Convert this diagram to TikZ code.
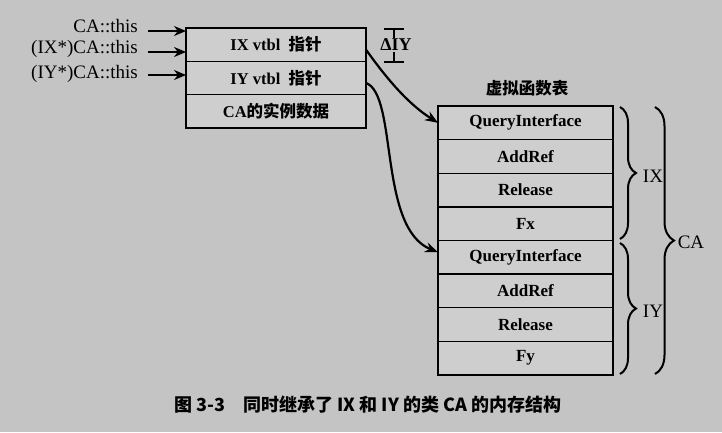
\documentclass[tikz,border=0pt]{standalone}
\usepackage{fontspec}
\setmainfont{Liberation Serif}
\newfontfamily\cjk{Noto Sans CJK SC}
\usetikzlibrary{arrows.meta,decorations.pathreplacing}
\definecolor{bg}{RGB}{196,196,196}
\definecolor{boxfill}{RGB}{206,206,206}
\begin{document}
\begin{tikzpicture}[x=1pt,y=-1pt,
  cell/.style={draw, line width=1.4pt, fill=boxfill, minimum width=180pt, minimum height=33.3pt,
    inner sep=0pt, outer sep=0pt, font=\fontsize{16.5}{16.5}\selectfont\bfseries},
  vcell/.style={draw, line width=1.4pt, fill=boxfill, minimum width=175pt, minimum height=33.6pt,
    inner sep=0pt, outer sep=0pt, font=\fontsize{17}{17}\selectfont\bfseries},
  lab/.style={anchor=east, inner sep=0pt, font=\fontsize{19}{19}\selectfont},
  ptr/.style={-{Stealth[length=12pt,width=10pt]}, line width=2.8pt},
  curvptr/.style={-{Stealth[length=13pt,width=10pt]}, line width=2.2pt},
  bracestyle/.style={decorate, decoration={brace,amplitude=16pt}, line width=2pt},
  blab/.style={inner sep=0pt, font=\fontsize{19}{19}\selectfont}
]
\fill[bg] (0,0) rectangle (722,432);
\useasboundingbox (0,0) rectangle (722,432);

% left object
\node[cell] (p1) at (276,44.65) {IX vtbl~~{\cjk 指针}};
\node[cell] (p2) at (276,77.95) {IY vtbl~~{\cjk 指针}};
\node[cell] (p3) at (276,111.25) {CA{\cjk 的实例数据}};
\draw[line width=2.4pt] (p1.north west) rectangle (p3.south east);

% this labels
\node[lab] (l1) at (138,26) {CA::this};
\node[lab] (l2) at (138,49) {(IX*)CA::this};
\node[lab] (l3) at (138,74) {(IY*)CA::this};
\coordinate (a1) at (148,31);
\coordinate (a2) at (148,52);
\coordinate (a3) at (148,75);
\draw[ptr] (a1) -- (a1 -| p1.west);
\draw[ptr] (a2) -- (a2 -| p1.west);
\draw[ptr] (a3) -- (a3 -| p1.west);

% delta IY marker
\coordinate (d1) at (394,29);
\coordinate (d2) at (394,62);
\draw[line width=1.8pt] (d1) -- (d2);
\draw[line width=1.8pt] ([xshift=-10pt]d1) -- ([xshift=10pt]d1);
\draw[line width=1.8pt] ([xshift=-10pt]d2) -- ([xshift=10pt]d2);
\node[fill=bg, inner sep=1pt, font=\fontsize{18}{18}\selectfont\bfseries] (dl) at (396,45) {ΔIY};

% vtable
\node[font=\cjk\bfseries\fontsize{16.5}{16.5}\selectfont] (title) at (527,88) {虚拟函数表};
\node[vcell] (v1) at (525.5,122.8) {QueryInterface};
\node[vcell] (v2) at (525.5,156.4) {AddRef};
\node[vcell] (v3) at (525.5,190.0) {Release};
\node[vcell] (v4) at (525.5,223.6) {Fx};
\node[vcell] (v5) at (525.5,257.2) {QueryInterface};
\node[vcell] (v6) at (525.5,290.8) {AddRef};
\node[vcell] (v7) at (525.5,324.4) {Release};
\node[vcell] (v8) at (525.5,358.0) {Fy};
\draw[line width=2.4pt] (v1.north west) rectangle (v8.south east);

% pointers to vtable
\draw[curvptr] ([yshift=-5pt]p1.east) .. controls (382,72) and (405,102) .. (v1.west);
\draw[curvptr] ([yshift=-5pt]p2.east) .. controls (398,95) and (378,228) .. ([yshift=5pt]v5.west);

% braces
\draw[bracestyle] (620,107) -- (620,239);
\draw[bracestyle] (620,243) -- (620,374);
\draw[bracestyle, decoration={brace,amplitude=19pt}] (655,107) -- (655,374);
\node[blab] (bix) at (653,176) {IX};
\node[blab] (biy) at (653,311) {IY};
\node[blab] (bca) at (691,242) {CA};

% caption
\node[font=\cjk\bfseries\fontsize{18}{18}\selectfont] (cap) at (368,405) {图 3-3\quad 同时继承了 IX 和 IY 的类 CA 的内存结构};
\end{tikzpicture}
\end{document}
